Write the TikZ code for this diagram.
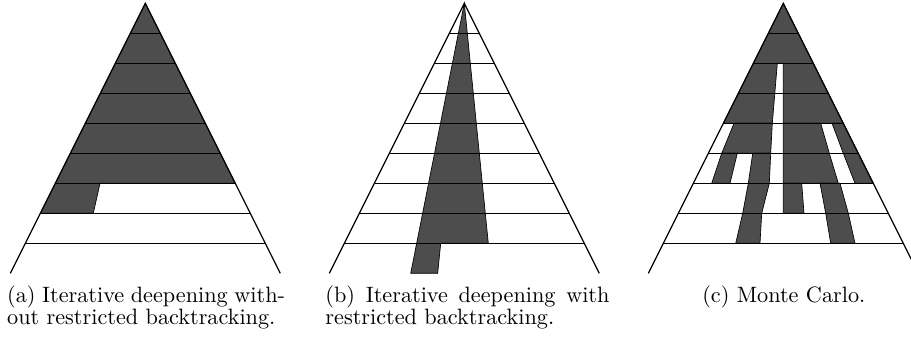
\documentclass[tikz,border=0pt]{standalone}
\definecolor{fillc}{RGB}{77,77,77}
\tikzset{
  region/.style={fill=fillc, draw=black, line width=0.3pt},
  lvl/.style={draw=black, line width=0.55pt},
  captxt/.style={anchor=base west, inner sep=0pt, font=\fontsize{10.1}{12}\selectfont},
}
\newcommand{\treeframe}[1]{%
  \foreach \k in {1,...,8}
    \draw[lvl] ({#1-15*\k},{3.3+30*\k}) -- ({#1+15*\k},{3.3+30*\k});
  \draw[lvl] ({#1-135},273.3) -- (#1,3.3) -- ({#1+135},273.3);
}
\begin{document}
\begin{tikzpicture}[x=0.4545pt,y=-0.4545pt]
\useasboundingbox (0,0) rectangle (911,338);
% ---- tree (a)
\fill[region] (145.3,3.3) -- (235.3,183.3) -- (100,183.3) -- (93.3,213.3) -- (40.3,213.3) -- cycle;
\treeframe{145.3}
% ---- tree (b)
\fill[region] (464.3,3.3) -- (488.3,243.3) -- (440.7,243.3) -- (437.7,273.3) -- (410.7,273.3) -- cycle;
\treeframe{464.3}
% ---- tree (c)
\fill[region] (783.3,3.3) -- (843.3,123.3) -- (783.3,123.3) -- (783.3,63.3) -- (777.3,63.3) -- (772.3,123.3) -- (723.3,123.3) -- cycle;
\fill[region] (734,123.3) -- (772.3,123.3) -- (770.7,153.3) -- (721.7,153.3) -- cycle;
\fill[region] (783.3,123.3) -- (820.7,123.3) -- (829.3,153.3) -- (838.3,183.3) -- (783.3,183.3) -- cycle;
\fill[region] (832,123.3) -- (843.3,123.3) -- (873.3,183.3) -- (855,183.3) -- (843.3,153.3) -- cycle;
\fill[region] (721.7,153.3) -- (737.3,153.3) -- (730,183.3) -- (711.7,183.3) -- cycle;
\fill[region] (752.7,153.3) -- (770.7,153.3) -- (769.3,183.3) -- (761.7,213.3) -- (760,243.3) -- (735.7,243.3) -- (742.7,213.3) -- (748.3,183.3) -- cycle;
\fill[region] (783.3,183.3) -- (801.7,183.3) -- (804,213.3) -- (783.3,213.3) -- cycle;
\fill[region] (820,183.3) -- (840,183.3) -- (848.3,213.3) -- (855,243.3) -- (830.7,243.3) -- (825.7,213.3) -- cycle;
\treeframe{783.3}
% ---- captions
\node[captxt] (capa1) at (6.7,302.7) {\makebox[126.3pt][s]{(a) Iterative deepening with-}};
\node[captxt] (capa2) at (6.7,324.3) {out restricted backtracking.};
\node[captxt] (capb1) at (325,302.7) {\makebox[129.1pt][s]{(b) Iterative deepening with}};
\node[captxt] (capb2) at (325,324.3) {restricted backtracking.};
\node[captxt, anchor=base] (capc) at (783.8,302.7) {(c) Monte Carlo.};
\end{tikzpicture}
\end{document}
